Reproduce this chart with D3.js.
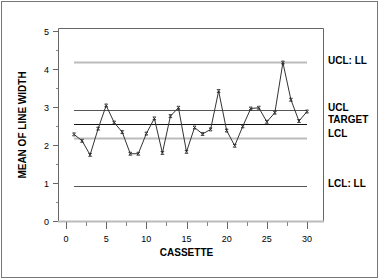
<!DOCTYPE html>
<html>
<head>
<meta charset="utf-8">
<script src="https://cdn.jsdelivr.net/npm/d3@7"></script>
<style>
  body { margin: 0; background: #fff; }
  svg { display: block; font-family: "Liberation Sans", Arial, sans-serif; }
</style>
</head>
<body>
<svg id="chart" width="380" height="280"></svg>
<script>
// mean line width per cassette
const cassettes = d3.range(1, 31)
const means = [2.28, 2.11, 1.74, 2.43, 3.04, 2.59, 2.34, 1.77, 1.77, 2.30,
               2.70, 1.79, 2.76, 2.98, 1.82, 2.46, 2.29, 2.41, 3.42, 2.38,
               1.98, 2.49, 2.96, 2.98, 2.61, 2.85, 4.17, 3.19, 2.63, 2.88]

// control limits
const limitNames = ['UCL: LL', 'UCL', 'TARGET', 'LCL', 'LCL: LL']
const limitValues = [4.18, 2.91, 2.54, 2.18, 0.91]
const limitKind = ['light', 'dark', 'black', 'light', 'dark']
const limitLabelY = [59.5, 106.5, 119, 132.5, 182.5]

const xTicks = [0, 5, 10, 15, 20, 25, 30]
const yTicks = [0, 1, 2, 3, 4, 5]

let svg = d3.select('#chart')

let x = d3.scaleLinear().domain([0, 30]).range([66, 307])
let y = d3.scaleLinear().domain([0, 5]).range([221, 31])

// outer border
svg.append('rect')
    .attr('x', 1.5).attr('y', 1.5)
    .attr('width', 376).attr('height', 276)
    .attr('fill', 'none')
    .attr('stroke', '#777')

// plot frame
svg.append('path')
    .attr('d', 'M58.5,221 V28.5 H323.5 V221')
    .attr('fill', 'none')
    .attr('stroke', '#666')
svg.append('line')
    .attr('x1', 58).attr('x2', 324)
    .attr('y1', 221.5).attr('y2', 221.5)
    .attr('stroke', '#bbb')
    .attr('stroke-width', 2)

// x axis ticks
let xAxis = svg.append('g')
xAxis.selectAll('line.major').data(xTicks).enter().append('line')
    .attr('x1', d => Math.round(x(d)) + 0.5).attr('x2', d => Math.round(x(d)) + 0.5)
    .attr('y1', 222).attr('y2', 229)
    .attr('stroke', '#666')
xAxis.selectAll('line.minor').data(d3.range(2.5, 30, 5)).enter().append('line')
    .attr('x1', d => Math.round(x(d)) + 0.5).attr('x2', d => Math.round(x(d)) + 0.5)
    .attr('y1', 222).attr('y2', 226)
    .attr('stroke', '#888')
xAxis.selectAll('text').data(xTicks).enter().append('text')
    .attr('x', d => x(d)).attr('y', 242)
    .attr('text-anchor', 'middle')
    .attr('font-size', 9)
    .text(d => d)

// y axis ticks
let yAxis = svg.append('g')
yAxis.selectAll('line.major').data(yTicks).enter().append('line')
    .attr('x1', 53).attr('x2', 58)
    .attr('y1', d => Math.round(y(d)) + 0.5).attr('y2', d => Math.round(y(d)) + 0.5)
    .attr('stroke', '#666')
yAxis.selectAll('line.minor').data(d3.range(0.5, 5, 1)).enter().append('line')
    .attr('x1', 56).attr('x2', 58)
    .attr('y1', d => Math.round(y(d)) + 0.5).attr('y2', d => Math.round(y(d)) + 0.5)
    .attr('stroke', '#888')
yAxis.selectAll('text').data(yTicks).enter().append('text')
    .attr('x', 49).attr('y', d => y(d) + 3.5)
    .attr('text-anchor', 'end')
    .attr('font-size', 9)
    .text(d => d)

// limit lines
const kindStyle = {
    light: {stroke: '#bbb', width: 2},
    dark: {stroke: '#555', width: 1},
    black: {stroke: '#111', width: 1}
}
let limits = svg.append('g')
limits.selectAll('line').data(limitValues).enter().append('line')
    .attr('x1', x(1)).attr('x2', x(30))
    .attr('y1', d => Math.round(y(d)) + 0.5).attr('y2', d => Math.round(y(d)) + 0.5)
    .attr('stroke', (d, i) => kindStyle[limitKind[i]].stroke)
    .attr('stroke-width', (d, i) => kindStyle[limitKind[i]].width)
limits.selectAll('text').data(limitNames).enter().append('text')
    .attr('x', 328).attr('y', (d, i) => limitLabelY[i] + 4)
    .attr('font-size', 10)
    .attr('font-weight', 'bold')
    .text(d => d)

// data line
let line = d3.line()
    .x((d, i) => x(cassettes[i]))
    .y(d => y(d))
svg.append('path')
    .datum(means)
    .attr('d', line)
    .attr('fill', 'none')
    .attr('stroke', '#333')
    .attr('stroke-width', 1)

// markers
svg.append('g').selectAll('path').data(means).enter().append('path')
    .attr('transform', (d, i) => `translate(${x(cassettes[i])},${y(d)})`)
    .attr('d', 'M-1.5,-1.5L1.5,1.5M-1.5,1.5L1.5,-1.5M-1.5,-1.5H1.5M-1.5,1.5H1.5')
    .attr('fill', 'none')
    .attr('stroke', '#222')
    .attr('stroke-width', 0.8)

// axis titles
svg.append('text')
    .attr('x', x(15)).attr('y', 256)
    .attr('text-anchor', 'middle')
    .attr('font-size', 10)
    .attr('font-weight', 'bold')
    .text('CASSETTE')
svg.append('text')
    .attr('transform', 'translate(26,125) rotate(-90)')
    .attr('text-anchor', 'middle')
    .attr('font-size', 10)
    .attr('font-weight', 'bold')
    .text('MEAN OF LINE WIDTH')
</script>
</body>
</html>
